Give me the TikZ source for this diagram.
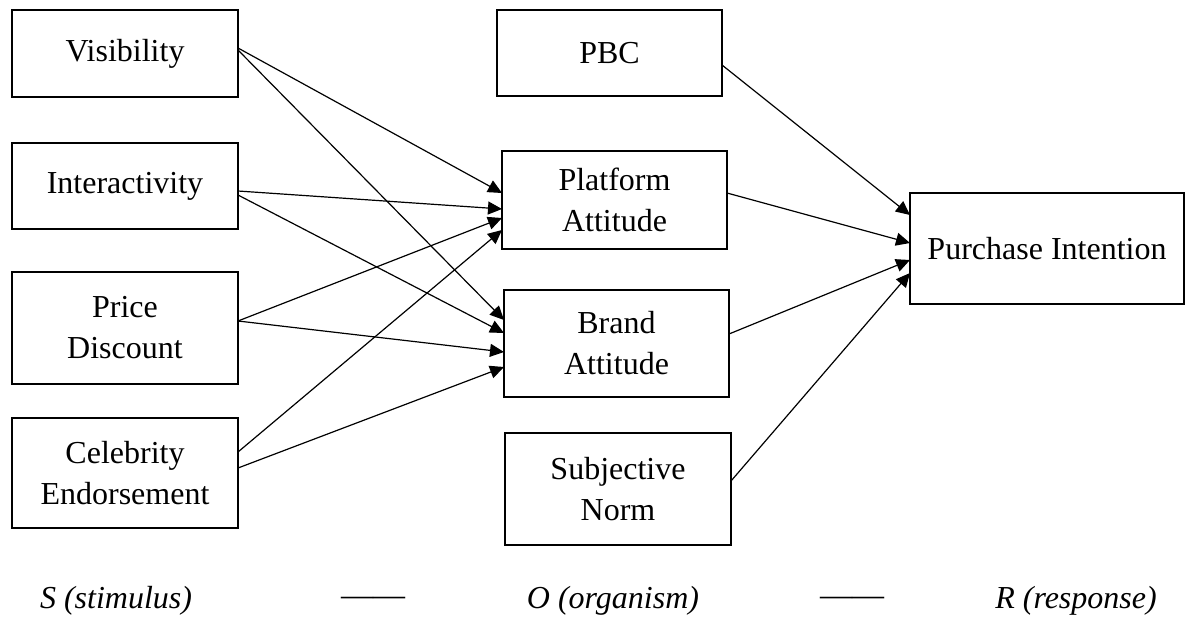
\documentclass[tikz,border=0pt]{standalone}
\usepackage{fontspec}
\setmainfont{Liberation Serif}
\usetikzlibrary{arrows.meta}
\begin{document}
\begin{tikzpicture}[x=1pt,y=-1pt,
  box/.style={draw,line width=2.2pt,rectangle,outer sep=0pt,inner sep=0pt,align=center,
    font=\fontsize{32}{41}\selectfont},
  lbl/.style={font=\fontsize{32}{41}\selectfont\itshape,inner sep=0pt},
  arr/.style={line width=1.2pt,-{Triangle[length=14pt,width=13pt]}}]
\useasboundingbox (0,0) rectangle (1186,626);
% left column
\node[box,minimum width=226pt,minimum height=87pt] (vis) at (125,53.5) {Visibility};
\node[box,minimum width=226pt,minimum height=86pt] (int) at (125,186) {Interactivity};
\node[box,minimum width=226pt,minimum height=112pt] (price) at (125,328) {Price\\Discount};
\node[box,minimum width=226pt,minimum height=110pt] (celeb) at (125,473) {Celebrity\\Endorsement};
% middle column
\node[box,minimum width=225pt,minimum height=86pt] (pbc) at (609.5,53) {PBC};
\node[box,minimum width=225pt,minimum height=98pt] (plat) at (614.5,200) {Platform\\Attitude};
\node[box,minimum width=225pt,minimum height=107pt] (brand) at (616.5,343.5) {Brand\\Attitude};
\node[box,minimum width=226pt,minimum height=112pt] (subj) at (618,489) {Subjective\\Norm};
% right
\node[box,minimum width=274pt,minimum height=111pt] (pi) at (1047,248.5) {Purchase Intention};
% connectors
\draw[arr] ([yshift=5.5pt]vis.east) -- ([yshift=7pt]plat.west);
\draw[arr] ([yshift=3.5pt]vis.east) -- ([yshift=23.5pt]brand.west);
\draw[arr] ([yshift=-5pt]int.east) -- ([yshift=-9pt]plat.west);
\draw[arr] ([yshift=-9pt]int.east) -- ([yshift=10.5pt]brand.west);
\draw[arr] ([yshift=7pt]price.east) -- ([yshift=-18pt]plat.west);
\draw[arr] ([yshift=7pt]price.east) -- ([yshift=-8.5pt]brand.west);
\draw[arr] ([yshift=21pt]celeb.east) -- ([yshift=-30pt]plat.west);
\draw[arr] ([yshift=5pt]celeb.east) -- ([yshift=-23.5pt]brand.west);
\draw[arr] ([yshift=-12pt]pbc.east) -- ([yshift=33.5pt]pi.west);
\draw[arr] ([yshift=7pt]plat.east) -- ([yshift=5.5pt]pi.west);
\draw[arr] ([yshift=9.5pt]brand.east) -- ([yshift=-11.5pt]pi.west);
\draw[arr] ([yshift=8pt]subj.east) -- ([yshift=-24.5pt]pi.west);
% bottom labels
\node[lbl] (s) at (116,601) {S (stimulus)};
\node[lbl] (d1) at (373,601) {\upshape ——};
\node[lbl] (o) at (613,601) {O (organism)};
\node[lbl] (d2) at (852,601) {\upshape ——};
\node[lbl] (r) at (1076,601) {R (response)};
\end{tikzpicture}
\end{document}
